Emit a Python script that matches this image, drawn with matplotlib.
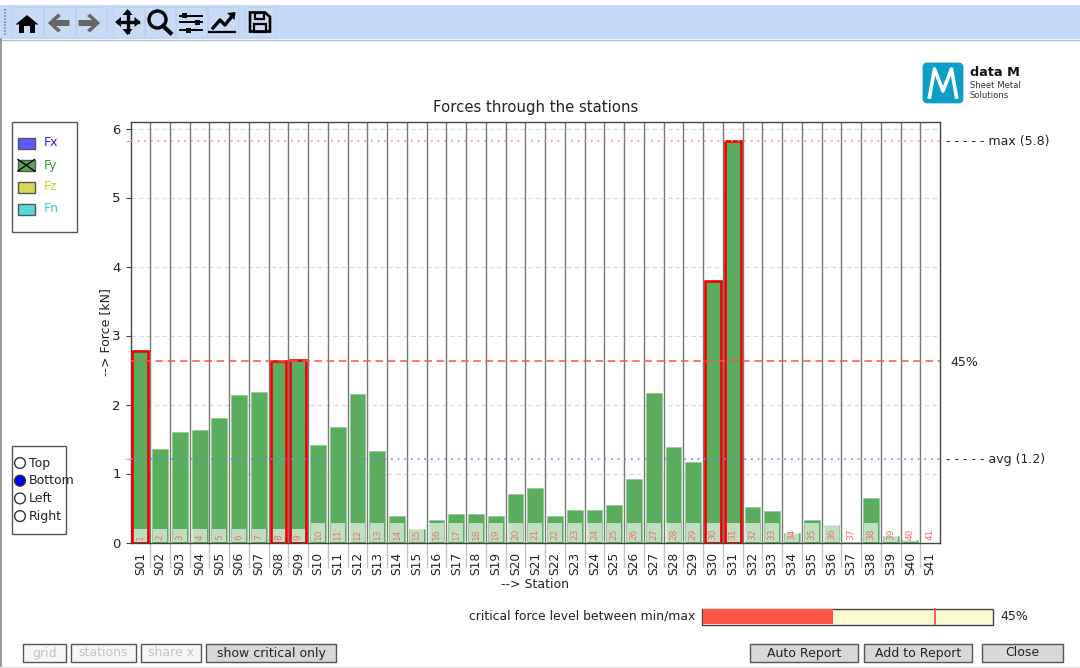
import matplotlib
matplotlib.use("Agg")
import matplotlib.pyplot as plt
from matplotlib.patches import Rectangle, Circle, FancyBboxPatch, Polygon
from matplotlib.lines import Line2D

stations = [f"S{i:02d}" for i in range(1, 42)]
forces = [2.78, 1.35, 1.60, 1.63, 1.81, 2.14, 2.18, 2.63, 2.65, 1.41, 1.68, 2.15, 1.33, 0.39, 0.19,
          0.33, 0.41, 0.41, 0.38, 0.70, 0.79, 0.38, 0.47, 0.47, 0.55, 0.92, 2.16, 1.38, 1.17, 3.79,
          5.82, 0.52, 0.46, 0.14, 0.32, 0.25, 0.01, 0.65, 0.09, 0.03, 0.00]
box_heights = [0.19] * 9 + [0.27] * 32
critical = [1, 8, 9, 30, 31]
max_force = 5.82
avg_force = 1.21
crit_force = 2.63
legend_names = ["Fx", "Fy", "Fz", "Fn"]
legend_colors = ["#5a5aff", "#55aa55", "#d8d855", "#55d8d8"]
legend_text = ["#2020ff", "#2e9e2e", "#d0d030", "#30d0d0"]
radio_names = ["Top", "Bottom", "Left", "Right"]
radio_state = [False, True, False, False]
W, H = 1080, 668

fig = plt.figure(figsize=(W / 100, H / 100), dpi=100, facecolor="white")
ax = fig.add_axes([130.5 / W, 1 - 542.5 / H, 809.5 / W, 420.5 / H])
ax.set_xlim(0.5, 41.5)
ax.set_ylim(0, 420.5 / 69)
xs = list(range(1, 42))

ax.set_axisbelow(True)
ax.yaxis.grid(True, color="#d6d6d6", ls=(0, (4, 3)), lw=0.8)
for x, v, name in zip(xs, forces, stations):
    ax.bar(x, v, width=0.8, color="#5aad5c", edgecolor="#8fcb90", lw=0.5, zorder=2)
for i in critical:
    ax.bar(i, forces[i - 1], width=0.8, facecolor="none", edgecolor="#ee0000", lw=1.9, zorder=4)
for x, b in zip(xs, box_heights):
    ax.add_patch(Rectangle((x - 0.36, 0.01), 0.72, b, fc="white", alpha=0.62, ec="none", zorder=3))
    ax.text(x, 0.04, str(x), rotation=90, fontsize=6.5, color="#f07070", ha="center", va="bottom", zorder=5)
for b in [i + 0.5 for i in range(1, 41)]:
    ax.axvline(b, color="#777777", lw=1.0, zorder=1)
    ax.plot([b, b], [0, -24.5 / 69], color="#c4c4c4", lw=1.0, clip_on=False, zorder=1)
ax.axhline(max_force, color="#ff8a8a", ls=(0, (1, 3)), lw=1.2, zorder=6)
ax.axhline(crit_force, color="#ff5050", ls=(0, (5, 3)), lw=1.1, zorder=6)
ax.axhline(avg_force, color="#7a7aff", ls=(0, (1, 3)), lw=1.2, zorder=6)

ax.set_xticks(xs)
ax.set_xticklabels(stations, rotation=90, fontsize=8.8, color="#222222")
ax.tick_params(axis="x", length=0, pad=7)
ax.set_yticks(range(7))
ax.tick_params(axis="y", labelsize=9.5, length=3.5, color="#444444", labelcolor="#222222")
ax.set_yticks([avg_force, max_force], minor=True)
ax.tick_params(axis="y", which="minor", length=3.5, color="#999999")
ax.set_xlabel("--> Station", fontsize=9, color="#222222", labelpad=2)
ax.set_ylabel("--> Force [kN]", fontsize=9, color="#222222", labelpad=0)
ax.set_title("Forces through the stations", fontsize=10.7, color="#222222", pad=7)
for s in ax.spines.values():
    s.set_color("#444444")
    s.set_linewidth(1.0)

# Window furniture in pixel coordinates
ui = fig.add_axes([0, 0, 1, 1], facecolor="none", zorder=10)
ui.set_xlim(0, W)
ui.set_ylim(H, 0)
ui.axis("off")

ui.add_patch(Rectangle((0, 5), W, 34, fc="#c4d9f6", ec="none"))
ui.add_line(Line2D([0, W], [39.5, 39.5], color="#a9bcd8", lw=1))
ui.add_line(Line2D([0.5, 0.5], [39, H], color="#888888", lw=1.2))
ui.add_line(Line2D([0, W], [667, 667], color="#e4e4e4", lw=1))
for x0, x1 in [(12, 43), (44, 75), (76, 106), (113, 144), (145, 175), (176, 207), (208, 238), (245, 275)]:
    ui.add_patch(Rectangle((x0, 7), x1 - x0, 30, fc="#c7dbf7", ec="#bccfec", lw=0.6))
for y in range(9, 35, 3):
    ui.add_patch(Rectangle((4, y), 1.5, 1.5, fc="#8fa3c0", ec="none"))

# toolbar icons
k = "black"
g = "#666666"
ui.add_patch(Polygon([[15.5, 24.5], [27, 15], [38.5, 24.5], [35, 24.5], [35, 33], [30, 33], [30, 26], [24, 26], [24, 33], [19, 33], [19, 24.5]], fc=k, ec="none"))
ui.add_patch(Polygon([[48, 23], [58, 13.5], [61, 16], [56, 20], [69.5, 20], [69.5, 26], [56, 26], [61, 30], [58, 32.5]], fc=g, ec="none"))
ui.add_patch(Polygon([[100, 23], [90, 13.5], [87, 16], [92, 20], [78.5, 20], [78.5, 26], [92, 26], [87, 30], [90, 32.5]], fc=g, ec="none"))
ui.plot([118, 138], [22, 22], color=k, lw=2.4)
ui.plot([127.5, 127.5], [12, 32], color=k, lw=2.4)
for p in ([[115, 22], [121, 17], [121, 27]], [[140.5, 22], [134.5, 17], [134.5, 27]],
          [[127.5, 9], [122.5, 15], [132.5, 15]], [[127.5, 35], [122.5, 29], [132.5, 29]]):
    ui.add_patch(Polygon(p, fc=k, ec="none"))
ui.add_patch(Circle((157.5, 19.5), 8.5, fc="none", ec=k, lw=2.4))
ui.plot([163, 170.5], [26, 33], color=k, lw=3)
for y, x in [(15.5, 184), (22, 197), (30, 188)]:
    ui.plot([180, 202], [y, y], color=k, lw=1.4)
    ui.add_patch(Rectangle((x - 2.5, y - 2.5), 5, 5, fc=k, ec="none"))
ui.plot([209, 235], [32, 32], color=k, lw=1.6)
ui.plot([213, 220, 225, 233], [28, 20, 25, 15], color=k, lw=2.4)
ui.add_patch(Polygon([[235.5, 12], [227, 13], [234.5, 20]], fc=k, ec="none"))
ui.add_patch(Polygon([[250, 12.5], [265, 12.5], [270, 17], [270, 31.5], [250, 31.5]], fc="none", ec=k, lw=1.9))
ui.add_patch(Rectangle((255, 12.5), 9, 6, fc="none", ec=k, lw=1.6))
ui.add_patch(Rectangle((254, 23.5), 12, 8, fc="none", ec=k, lw=1.6))

# logo
ui.add_patch(FancyBboxPatch((924, 64), 38, 38, boxstyle="round,pad=0,rounding_size=3", fc="#0b9fc6", ec="#0b9fc6", lw=2))
ui.plot([929.5, 934.5, 943, 951.5, 956.5], [97, 69, 91, 69, 97], color="white", lw=2.6, solid_joinstyle="round")
ui.text(970, 73, "data M", color="#111111", fontsize=9.3, fontweight="bold", va="center")
ui.text(970, 86, "Sheet Metal", color="#333333", fontsize=6.1, va="center")
ui.text(970, 96, "Solutions", color="#333333", fontsize=6.1, va="center")

# legend box
ui.add_patch(Rectangle((12, 121.5), 65, 110.5, fc="white", ec="#555555", lw=1))
for i, (n, c, t) in enumerate(zip(legend_names, legend_colors, legend_text)):
    y = 143 + i * 22
    ui.add_patch(Rectangle((18, y - 5.5), 16.5, 11.5, fc=c, ec="#555555", lw=1))
    if n == "Fy":
        ui.plot([18, 34.5], [y - 5.5, y + 6], color="black", lw=1)
        ui.plot([18, 34.5], [y + 6, y - 5.5], color="black", lw=1)
    ui.text(44, y, n, color=t, fontsize=9, va="center")

# radio box
ui.add_patch(Rectangle((12, 445.5), 54, 88, fc="white", ec="#555555", lw=1))
for i, (n, on) in enumerate(zip(radio_names, radio_state)):
    y = 463 + i * 17.7
    ui.add_patch(Circle((20, y), 5.4, fc="#0000ff" if on else "white", ec="#333333", lw=1))
    ui.text(29, y, n, color="#222222", fontsize=9, va="center")

# right-hand annotations
ui.text(946, 142, "- - - - - max (5.8)", fontsize=9, color="#222222", va="center")
ui.text(946, 460, "- - - - - avg (1.2)", fontsize=9, color="#222222", va="center")
ui.text(950, 362, "45%", fontsize=9, color="#222222", va="center")

# slider
ui.text(695, 616, "critical force level between min/max", fontsize=8.9, color="#222222", ha="right", va="center")
ui.add_patch(Rectangle((702, 608.5), 291, 16, fc="#fafad2", ec="#444444", lw=1))
ui.add_patch(Rectangle((702.5, 609), 130.5, 15, fc="#ff5548", ec="none"))
ui.add_line(Line2D([935, 935], [609, 624], color="#f05050", lw=1.3))
ui.text(1000, 616, "45%", fontsize=9, color="#222222", va="center")

# buttons
for x0, x1, label, active in [(23, 66, "grid", False), (71, 136, "stations", False), (141, 201, "share x", False),
                              (206, 336, "show critical only", True), (750, 858, "Auto Report", True),
                              (864, 972, "Add to Report", True), (982, 1063, "Close", True)]:
    ui.add_patch(Rectangle((x0, 644), x1 - x0, 18, fc="#d8d8d8" if active else "#f6f6f6", ec="#555555", lw=1))
    ui.text((x0 + x1) / 2, 653, label, fontsize=9, ha="center", va="center", color="#222222" if active else "#c4c4c4")

fig.savefig("out.png", dpi=100, facecolor="white")
